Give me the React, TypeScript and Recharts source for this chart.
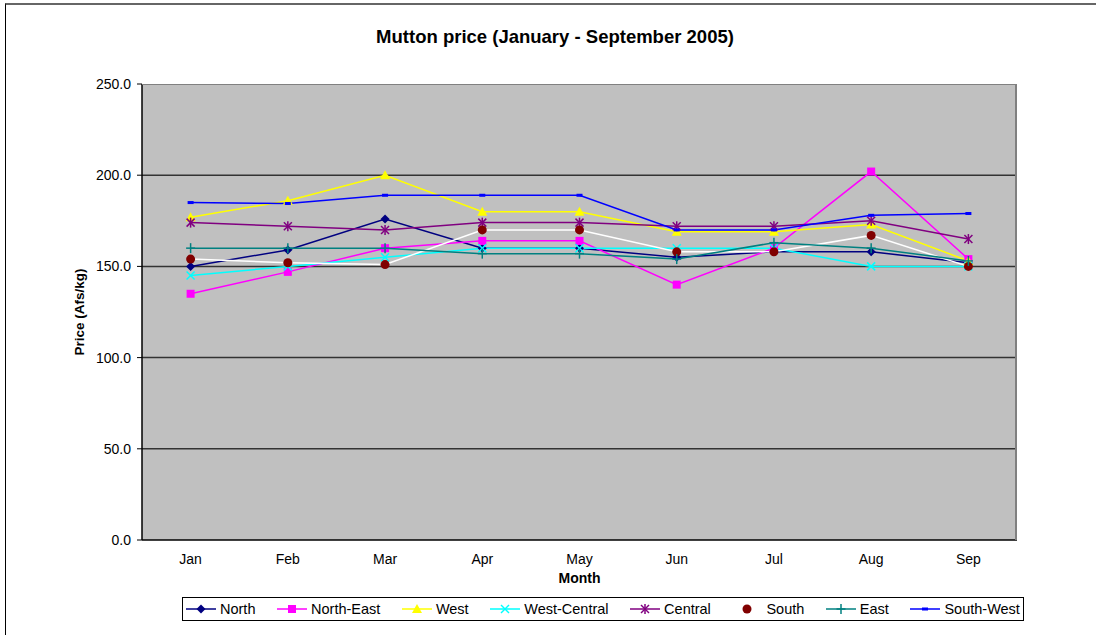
import { CartesianGrid, Line, LineChart, XAxis, YAxis } from 'recharts';

const months = ['Jan', 'Feb', 'Mar', 'Apr', 'May', 'Jun', 'Jul', 'Aug', 'Sep'];
const north = [150, 159, 176, 160, 160, 155, 158, 158, 152];
const northEast = [135, 147, 160, 164, 164, 140, 160, 202, 154];
const west = [177, 186, 200, 180, 180, 169, 169, 173, 153];
const westCentral = [145, 150, 155, 160, 160, 160, 160, 150, 150];
const central = [174, 172, 170, 174, 174, 172, 172, 175, 165];
const south = [154, 152, 151, 170, 170, 158, 158, 167, 150];
const east = [160, 160, 160, 157, 157, 154, 163, 160, 153];
const southWest = [185, 184.5, 189, 189, 189, 170, 170, 178, 179];
const yTicks = [0, 50, 100, 150, 200, 250];

type Shape = 'diamond' | 'square' | 'triangle' | 'x' | 'star' | 'circle' | 'plus' | 'dash';

const series: { key: string; name: string; values: number[]; color: string; line: string; shape: Shape }[] = [
  { key: 'north', name: 'North', values: north, color: '#000080', line: '#000080', shape: 'diamond' },
  { key: 'northEast', name: 'North-East', values: northEast, color: '#ff00ff', line: '#ff00ff', shape: 'square' },
  { key: 'west', name: 'West', values: west, color: '#ffff00', line: '#ffff00', shape: 'triangle' },
  { key: 'westCentral', name: 'West-Central', values: westCentral, color: '#00ffff', line: '#00ffff', shape: 'x' },
  { key: 'central', name: 'Central', values: central, color: '#800080', line: '#800080', shape: 'star' },
  { key: 'south', name: 'South', values: south, color: '#800000', line: '#ffffff', shape: 'circle' },
  { key: 'east', name: 'East', values: east, color: '#008080', line: '#008080', shape: 'plus' },
  { key: 'southWest', name: 'South-West', values: southWest, color: '#0000ff', line: '#0000ff', shape: 'dash' }
];

const data = months.map((month, i) => {
  const row: Record<string, string | number> = { month };
  series.forEach((s) => {
    row[s.key] = s.values[i];
  });
  return row;
});

const edgeTicks = [...months.map((_, i) => i), months.length];

const font = 'Arial, "Liberation Sans", sans-serif';
const plotWidth = 875;
const halfBand = plotWidth / months.length / 2;

// Excel-style marker glyphs
const Marker = ({ cx, cy, shape, color }: { cx: number; cy: number; shape: Shape; color: string }) => {
  switch (shape) {
    case 'diamond':
      return <polygon points={`${cx},${cy - 4.5} ${cx + 4.5},${cy} ${cx},${cy + 4.5} ${cx - 4.5},${cy}`} fill={color} />;
    case 'square':
      return <rect x={cx - 4} y={cy - 4} width={8} height={8} fill={color} />;
    case 'triangle':
      return <polygon points={`${cx},${cy - 5} ${cx + 5},${cy + 4} ${cx - 5},${cy + 4}`} fill={color} />;
    case 'x':
      return (
        <g stroke={color} strokeWidth={1.5}>
          <line x1={cx - 4} y1={cy - 4} x2={cx + 4} y2={cy + 4} />
          <line x1={cx - 4} y1={cy + 4} x2={cx + 4} y2={cy - 4} />
        </g>
      );
    case 'star':
      return (
        <g stroke={color} strokeWidth={1.5}>
          <line x1={cx - 4} y1={cy - 4} x2={cx + 4} y2={cy + 4} />
          <line x1={cx - 4} y1={cy + 4} x2={cx + 4} y2={cy - 4} />
          <line x1={cx} y1={cy - 5} x2={cx} y2={cy + 5} />
        </g>
      );
    case 'circle':
      return <circle cx={cx} cy={cy} r={4.5} fill={color} />;
    case 'plus':
      return (
        <g stroke={color} strokeWidth={1.5}>
          <line x1={cx - 4.5} y1={cy} x2={cx + 4.5} y2={cy} />
          <line x1={cx} y1={cy - 5} x2={cx} y2={cy + 5} />
        </g>
      );
    default:
      return <rect x={cx - 3} y={cy - 1.5} width={6} height={3} fill={color} />;
  }
};

const makeDot = (shape: Shape, color: string, name: string) => (props: any) => (
  <Marker key={`${name}-${props.index}`} cx={props.cx} cy={props.cy} shape={shape} color={color} />
);

const LegendBox = () => (
  <div
    style={{
      position: 'absolute',
      left: 182,
      top: 597,
      width: 842,
      height: 24,
      border: '1px solid #000',
      background: '#fff',
      display: 'flex',
      alignItems: 'center',
      justifyContent: 'space-between',
      padding: '0 3px',
      boxSizing: 'border-box',
      fontFamily: font,
      fontSize: 14.5
    }}
  >
    {series.map((s) => (
      <div key={s.key} style={{ display: 'flex', alignItems: 'center' }}>
        <svg width={30} height={12}>
          <line x1={0} y1={6} x2={30} y2={6} stroke={s.line} strokeWidth={1.5} />
          <Marker cx={15} cy={6} shape={s.shape} color={s.color} />
        </svg>
        <span style={{ marginLeft: 4 }}>{s.name}</span>
      </div>
    ))}
  </div>
);

export default function App() {
  return (
    <div style={{ position: 'absolute', left: 0, top: 0, width: 1096, height: 635, background: '#fff', overflow: 'hidden' }}>
      <div
        style={{
          position: 'absolute',
          left: 5,
          top: 3,
          width: 1200,
          height: 800,
          borderTop: '2px solid #666',
          borderLeft: '1px solid #000'
        }}
      />
      <div
        style={{
          position: 'absolute',
          left: 0,
          top: 26,
          width: 1110,
          textAlign: 'center',
          fontFamily: font,
          fontWeight: 'bold',
          fontSize: 18.5
        }}
      >
        Mutton price (January - September 2005)
      </div>
      <div style={{ position: 'absolute', left: 0, top: 0 }}>
        <LineChart width={1096} height={635} data={data} margin={{ top: 84, right: 79, bottom: 50, left: 0 }}>
          <CartesianGrid
            fill="#c0c0c0"
            vertical={false}
            horizontalValues={[50, 100, 150, 200]}
            stroke="#333"
            strokeWidth={1.5}
          />
          <XAxis
            xAxisId="edges"
            type="number"
            domain={[0, months.length]}
            ticks={edgeTicks}
            height={0}
            axisLine={false}
            tick={{ fontSize: 0 }}
            tickFormatter={() => ''}
            tickSize={5}
            tickLine={{ stroke: '#000' }}
          />
          <XAxis
            dataKey="month"
            height={45}
            padding={{ left: halfBand, right: halfBand }}
            tickLine={false}
            tickMargin={8}
            axisLine={{ stroke: '#000', strokeWidth: 1.5 }}
            tick={{ fill: '#000', fontSize: 14, fontFamily: font }}
            label={{
              value: 'Month',
              position: 'insideBottom',
              offset: 2,
              style: { fill: '#000', fontSize: 14, fontWeight: 'bold', fontFamily: font }
            }}
          />
          <YAxis
            width={142}
            domain={[0, 250]}
            ticks={yTicks}
            tickFormatter={(v: number) => v.toFixed(1)}
            tickSize={5}
            tickMargin={6}
            tickLine={{ stroke: '#000' }}
            axisLine={{ stroke: '#000', strokeWidth: 1.5 }}
            tick={{ fill: '#000', fontSize: 14, fontFamily: font }}
            label={{
              value: 'Price (Afs/kg)',
              angle: -90,
              position: 'insideLeft',
              offset: 79,
              style: { textAnchor: 'middle', fill: '#000', fontSize: 13.5, fontWeight: 'bold', fontFamily: font }
            }}
          />
          {series.map((s) => (
            <Line
              key={s.key}
              dataKey={s.key}
              name={s.name}
              type="linear"
              stroke={s.line}
              strokeWidth={1.5}
              dot={makeDot(s.shape, s.color, s.key)}
              activeDot={false}
              isAnimationActive={false}
            />
          ))}
        </LineChart>
      </div>
      <div
        style={{
          position: 'absolute',
          left: 142,
          top: 84,
          width: 875,
          height: 456,
          borderTop: '1.5px solid #808080',
          borderRight: '2px solid #808080',
          boxSizing: 'border-box',
          pointerEvents: 'none'
        }}
      />
      <LegendBox />
    </div>
  );
}
